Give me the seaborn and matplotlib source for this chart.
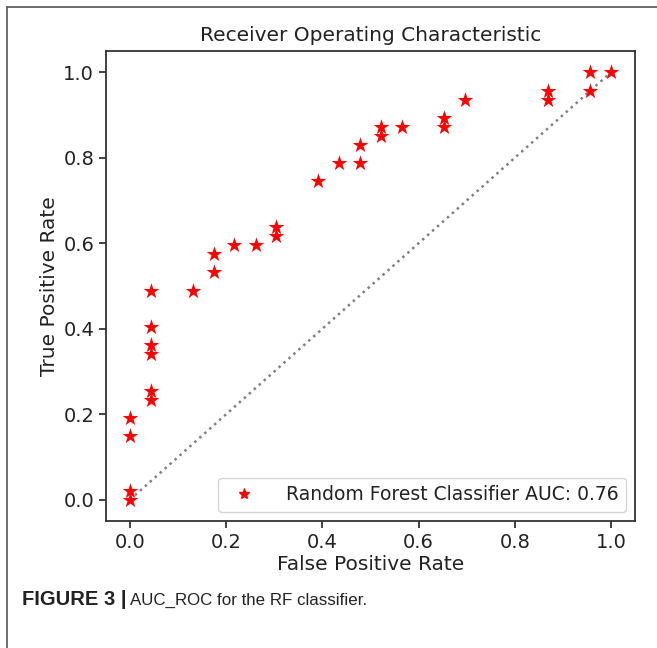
import numpy as np
import pandas as pd
import matplotlib
matplotlib.use("Agg")
import matplotlib.pyplot as plt
import seaborn as sns
from matplotlib.lines import Line2D

# -----------------------------
# DATA
# -----------------------------
fpr = [0.0, 0.0, 0.0, 0.0,
       0.043, 0.043, 0.043, 0.043, 0.043, 0.043,
       0.130, 0.174, 0.174, 0.217, 0.261, 0.304, 0.304,
       0.391, 0.435, 0.478, 0.478, 0.522, 0.522, 0.565,
       0.652, 0.652, 0.696, 0.870, 0.870, 0.957, 0.957, 1.0]
tpr = [0.0, 0.021, 0.149, 0.191,
       0.234, 0.255, 0.340, 0.362, 0.404, 0.489,
       0.489, 0.532, 0.574, 0.596, 0.596, 0.617, 0.638,
       0.745, 0.787, 0.787, 0.830, 0.851, 0.872, 0.872,
       0.872, 0.894, 0.936, 0.936, 0.957, 0.957, 1.0, 1.0]
chance = [0.0, 1.0]
auc_label = "Random Forest Classifier AUC: 0.76"
ticks = [0.0, 0.2, 0.4, 0.6, 0.8, 1.0]

df = pd.DataFrame({"fpr": fpr, "tpr": tpr})

# -----------------------------
# STYLE
# -----------------------------
sns.set_style("ticks")
plt.rcParams["font.family"] = ["DejaVu Sans"]
plt.rcParams["axes.edgecolor"] = "#333333"
plt.rcParams["axes.linewidth"] = 1.3

fig = plt.figure(figsize=(6.57, 6.48), dpi=100)
ax = fig.add_axes([106 / 657, 1 - 521 / 648, (635 - 106) / 657, (521 - 51) / 648])

# -----------------------------
# ROC PLOT
# -----------------------------
sns.lineplot(x=chance, y=chance, ax=ax, color="gray", linestyle=":",
             linewidth=1.8, zorder=1)
sns.scatterplot(data=df, x="fpr", y="tpr", ax=ax, marker="*", color="red",
                s=140, linewidth=0, zorder=2)

ax.set_xlim(-0.05, 1.05)
ax.set_ylim(-0.05, 1.05)
ax.set_xticks(ticks)
ax.set_yticks(ticks)
ax.tick_params(labelsize=14, length=5, width=1.2, colors="#222222")
ax.set_xlabel("False Positive Rate", fontsize=14.5, color="#222222", labelpad=2)
ax.set_ylabel("True Positive Rate", fontsize=14.5, color="#222222", labelpad=3)
ax.set_title("Receiver Operating Characteristic", fontsize=14.5,
             color="#222222", pad=7)

handle = Line2D([], [], marker="*", color="red", linestyle="none",
                markersize=8)
ax.legend([handle], [auc_label], loc="lower right", fontsize=13.5,
          frameon=True, borderpad=0.4, handletextpad=1.2,
          labelcolor="#222222")

# -----------------------------
# PAGE FRAME + CAPTION
# -----------------------------
fig.add_artist(Line2D([7 / 657, 1.0], [1 - 7 / 648, 1 - 7 / 648],
                      color="#555555", linewidth=1.2))
fig.add_artist(Line2D([7 / 657, 7 / 657], [0.0, 1 - 7 / 648],
                      color="#555555", linewidth=1.2))

cap_family = ["Liberation Sans Narrow", "Liberation Sans", "DejaVu Sans"]
t1 = fig.text(22 / 657, 1 - 605 / 648, "FIGURE 3 |", fontsize=14.5,
              fontweight="bold", family=cap_family, color="#222222",
              va="baseline")
fig.canvas.draw()
bb = t1.get_window_extent(renderer=fig.canvas.get_renderer())
fig.text(bb.x1 / 657 + 3 / 657, 1 - 605 / 648,
         "AUC_ROC for the RF classifier.", fontsize=12.2,
         family=cap_family, color="#222222", va="baseline")

plt.savefig("out.png", dpi=100)
